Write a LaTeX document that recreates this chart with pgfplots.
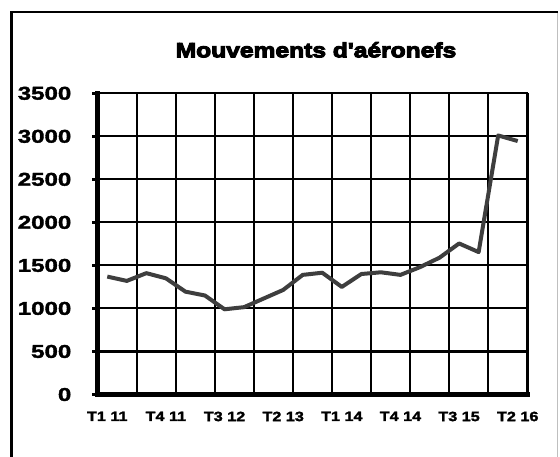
\documentclass[border=0pt]{standalone}
\usepackage{pgfplots}
\pgfplotsset{compat=1.18}
\usepackage{fontspec}
\setmainfont{Liberation Sans}
\newfontfamily\titlefont{Liberation Sans Bold}[FakeBold=5,FakeStretch=1.2]
\newfontfamily\ylabfont{Liberation Sans Bold}[FakeBold=2,FakeStretch=1.3]
\newfontfamily\xlabfont{Liberation Sans Bold}[FakeBold=2,FakeStretch=1.2]
\definecolor{linec}{RGB}{62,62,62}
\begin{document}
\begin{tikzpicture}[x=1pt,y=1pt]
\useasboundingbox (0,0) rectangle (560,457);
\fill[white] (0,0) rectangle (560,457);
\draw[black!25, line width=1.2] (557.5,0) -- (557.5,445);
\draw[black, line width=2.5] (10,445) -- (558,445);
\draw[black, line width=3] (11.5,0) -- (11.5,446.25);
\node[anchor=base, inner sep=0pt] at (316,399.7) {\titlefont\fontsize{20.5}{24}\selectfont Mouvements d'aéronefs};
\begin{axis}[
  at={(97.5pt,62.5pt)}, anchor=south west,
  scale only axis, width=430pt, height=301.2pt,
  xmin=-0.5, xmax=21.5, ymin=0, ymax=3500,
  axis x line*=bottom, axis y line*=left,
  axis line style={line width=5pt, line cap=rect, -},
  ytick={0,500,1000,1500,2000,2500,3000,3500},
  yticklabels={0,500,1000,1500,2000,2500,3000,3500},
  ymajorgrids, major grid style={black, line width=2.1pt},
  xtick={0,3,6,9,12,15,18,21},
  xticklabels={T1 11,T4 11,T3 12,T2 13,T1 14,T4 14,T3 15,T2 16},
  minor xtick={-0.5,1.5,3.5,5.5,7.5,9.5,11.5,13.5,15.5,17.5,19.5,21.5},
  xminorgrids, minor grid style={black, line width=2.1pt},
  xmajorgrids=false,
  x tick style={draw=none},
  y tick style={black, line width=3pt},
  tick align=outside, major tick length=5pt,
  yticklabel style={font=\ylabfont\fontsize{18.5}{20}\selectfont, anchor=east, inner sep=0pt, xshift=-21pt},
  xticklabel style={font=\xlabfont\fontsize{13.5}{15}\selectfont, anchor=north, inner sep=0pt, yshift=-12pt},
  clip=false,
]
\addplot[linec, line width=4pt, line join=round] coordinates {
(0,1370) (1,1320) (2,1410) (3,1350) (4,1195) (5,1150) (6,990) (7,1015)
(8,1115) (9,1215) (10,1390) (11,1415) (12,1250) (13,1400) (14,1420) (15,1390)
(16,1480) (17,1590) (18,1755) (19,1655) (20,3010) (21,2945)
};
\end{axis}
\end{tikzpicture}
\end{document}
